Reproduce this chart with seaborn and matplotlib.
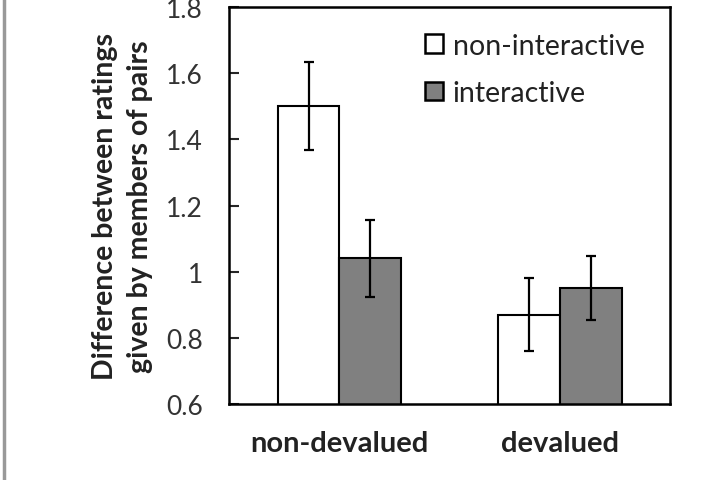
import numpy as np
import pandas as pd
import matplotlib
matplotlib.use('Agg')
import matplotlib.pyplot as plt
import seaborn as sns

# datos
groups = ['non-devalued', 'devalued']
conditions = ['non-interactive', 'interactive']
means = {'non-interactive': [1.50, 0.87], 'interactive': [1.04, 0.95]}
errors = {'non-interactive': [0.133, 0.11], 'interactive': [0.115, 0.097]}
yticks = [0.6, 0.8, 1.0, 1.2, 1.4, 1.6, 1.8]
ytick_labels = ['0.6', '0.8', '1', '1.2', '1.4', '1.6', '1.8']

rows = []
for c in conditions:
    for g, m, e in zip(groups, means[c], errors[c]):
        rows.append({'group': g, 'condition': c, 'value': m, 'err': e})
df = pd.DataFrame(rows)

sns.set_theme(style='white')
plt.rcParams['font.family'] = ['Lato', 'DejaVu Sans']

fig = plt.figure(figsize=(7.23, 4.81), dpi=100)
ax = fig.add_axes([0.317, 0.158, 0.61, 0.825])

sns.barplot(data=df, x='group', y='value', hue='condition',
            order=groups, hue_order=conditions,
            palette={'non-interactive': 'white', 'interactive': '#808080'},
            edgecolor='black', linewidth=1.5, width=0.56,
            errorbar=None, ax=ax)

# barras de error en el centro de cada barra
for cont, c in zip(ax.containers, conditions):
    for patch, g in zip(cont.patches, groups):
        r = df[(df.condition == c) & (df.group == g)].iloc[0]
        xc = patch.get_x() + patch.get_width() / 2
        ax.errorbar(xc, r['value'], yerr=r['err'], color='black',
                    elinewidth=1.6, capsize=3.6, capthick=1.6, zorder=5)

ax.set_ylim(0.6, 1.8)
ax.set_xlim(-0.5, 1.5)
ax.set_yticks(yticks)
ax.set_yticklabels(ytick_labels, fontsize=19, color='#333333')
ax.set_xticklabels(groups, fontsize=21, fontweight='bold', color='#222222')
ax.tick_params(axis='y', direction='in', length=7, width=1.5, left=True, pad=19)
ax.tick_params(axis='x', length=0, pad=19)
ax.set_xlabel('')
ax.set_ylabel('Difference between ratings\ngiven by members of pairs',
              fontsize=20.5, fontweight='bold', color='#222222', labelpad=9,
              linespacing=1.45)
for s in ax.spines.values():
    s.set_color('black')
    s.set_linewidth(1.8)

leg = ax.legend(loc='upper right', frameon=False, fontsize=20.5,
                handlelength=0.63, handleheight=0.63, handletextpad=0.35,
                labelspacing=0.75, borderaxespad=0.5, borderpad=0.4)
for h in leg.legend_handles:
    h.set_edgecolor('black')
    h.set_linewidth(1.8)
for t in leg.get_texts():
    t.set_color('#222222')

# borde gris a la izquierda
fig.add_artist(plt.Line2D([0.006, 0.006], [0, 1], color='#999999', lw=2.5,
                          transform=fig.transFigure))

plt.savefig('out.png', dpi=100)
